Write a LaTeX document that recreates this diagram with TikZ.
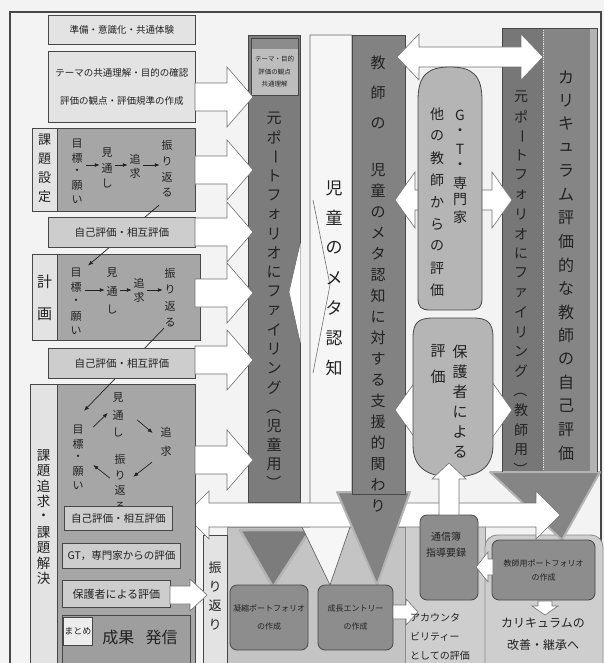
\documentclass[tikz,border=0pt]{standalone}
\usepackage{fontspec}
\usepackage{graphicx}
\setmainfont{Noto Sans CJK JP}
\usetikzlibrary{arrows.meta}
\makeatletter
\newcommand\tate[2]{\vbox{\offinterlineskip\@tfor\tate@c:=#2\do{\hbox to 1.1em{\hss\vbox to #1{\vss\hbox{\tate@c}\vss}\hss}}}}
\makeatother
\newcommand\tbar{\rotatebox[origin=c]{-90}{ー}}
\newcommand\tlp{\rotatebox[origin=c]{-90}{（}}
\newcommand\trp{\rotatebox[origin=c]{-90}{）}}
\newcommand\fs[2]{\fontsize{#1pt}{#2pt}\selectfont}
% block arrows
\newcommand\bkR[7]{\path[#1] (#2,{#4-(#5)}) -- ({#3-(#7)},{#4-(#5)}) -- ({#3-(#7)},{#4-(#6)}) -- (#3,#4) -- ({#3-(#7)},{#4+(#6)}) -- ({#3-(#7)},{#4+(#5)}) -- (#2,{#4+(#5)}) -- cycle;}
\newcommand\bkL[7]{\path[#1] (#2,{#4-(#5)}) -- ({#3+(#7)},{#4-(#5)}) -- ({#3+(#7)},{#4-(#6)}) -- (#3,#4) -- ({#3+(#7)},{#4+(#6)}) -- ({#3+(#7)},{#4+(#5)}) -- (#2,{#4+(#5)}) -- cycle;}
\newcommand\bkU[7]{\path[#1] ({#2-(#5)},#3) -- ({#2-(#5)},{#4+(#7)}) -- ({#2-(#6)},{#4+(#7)}) -- (#2,#4) -- ({#2+(#6)},{#4+(#7)}) -- ({#2+(#5)},{#4+(#7)}) -- ({#2+(#5)},#3) -- cycle;}
\newcommand\bkD[7]{\path[#1] ({#2-(#5)},#3) -- ({#2-(#5)},{#4-(#7)}) -- ({#2-(#6)},{#4-(#7)}) -- (#2,#4) -- ({#2+(#6)},{#4-(#7)}) -- ({#2+(#5)},{#4-(#7)}) -- ({#2+(#5)},#3) -- cycle;}
\newcommand\bkLR[7]{\path[#1] (#2,#4) -- ({#2+(#7)},{#4-(#6)}) -- ({#2+(#7)},{#4-(#5)}) -- ({#3-(#7)},{#4-(#5)}) -- ({#3-(#7)},{#4-(#6)}) -- (#3,#4) -- ({#3-(#7)},{#4+(#6)}) -- ({#3-(#7)},{#4+(#5)}) -- ({#2+(#7)},{#4+(#5)}) -- ({#2+(#7)},{#4+(#6)}) -- cycle;}
\definecolor{bg}{HTML}{F3F3F3}
\definecolor{edge}{HTML}{474747}
\definecolor{ink}{HTML}{222222}
\definecolor{colA}{HTML}{7C7C7C}
\definecolor{colB}{HTML}{F6F6F6}
\definecolor{colC}{HTML}{828282}
\definecolor{colE}{HTML}{777777}
\definecolor{colF}{HTML}{858585}
\definecolor{bandgray}{HTML}{B3B3B3}
\definecolor{grpgray}{HTML}{A6A6A6}
\definecolor{lightbox}{HTML}{E3E3E3}
\definecolor{midbox}{HTML}{CDCDCD}
\definecolor{bottlegray}{HTML}{B5B5B5}
\definecolor{botbox}{HTML}{8D8D8D}
\definecolor{botbg}{HTML}{C4C4C4}
\definecolor{accbg}{HTML}{CECECE}
\definecolor{smallbox}{HTML}{BDBDBD}
\definecolor{hdr}{HTML}{8C8C8C}
\definecolor{mtmgray}{HTML}{9E9E9E}
\tikzset{
  outerframe/.style={draw=edge, line width=2pt},
  lbox/.style={draw=edge, line width=0.8pt, fill=lightbox, inner sep=0pt, align=center, text=ink},
  sbox/.style={draw=edge, line width=0.8pt, fill=midbox, inner sep=0pt, align=center, text=ink},
  grp/.style={draw=edge, line width=0.8pt, fill=grpgray, inner sep=0pt},
  labelstrip/.style={draw=edge, line width=0.8pt, fill=lightbox, inner sep=0pt},
  colbox/.style={draw=edge, line width=0.6pt, inner sep=0pt},
  warrow/.style={fill=white, draw=black!55, line width=0.6pt, line join=miter},
  bottle/.style={fill=bottlegray, draw=edge, line width=0.8pt},
  rbox/.style={draw=edge, line width=0.8pt, fill=botbox, rounded corners=7pt, inner sep=0pt, align=center, text=ink},
  vt/.style={inner sep=0pt, text=ink},
  txt/.style={inner sep=0pt, text=ink, align=center},
  tline/.style={draw=ink, line width=0.7pt, -{Latex[length=5pt,width=4pt]}},
}
\begin{document}
\begin{tikzpicture}[x=1pt,y=-1pt]
\useasboundingbox (0,0) rectangle (604,663);
\fill[bg] (-2,-2) rectangle (606,665);
\draw[outerframe] (10,680) -- (10,12) -- (601,12) -- (601,680);

% ---------- bottom regions ----------
\path[draw=black!45, fill=botbg, line width=0.6pt] (227,527) rectangle (405,680);
\path[draw=black!45, fill=accbg, line width=0.6pt] (405,505) rectangle (485,680);
\path[draw=black!45, fill=accbg, line width=0.8pt, rounded corners=12pt] (485,535) rectangle (603,690);
\node[labelstrip, anchor=north west, minimum width=24pt, minimum height=140pt] (furi) at (203,535) {};

% ---------- column A ----------
\node[colbox, fill=colA, anchor=north west, minimum width=52pt, minimum height=467pt] (colA) at (248,35) {};
\node[draw=edge, line width=0.6pt, fill=smallbox, anchor=north west, minimum width=47pt, minimum height=57pt, inner sep=0pt] (abox) at (251,38) {};
\fill[hdr] (252,39) rectangle (297.5,49);
\node[txt, font={\fs{6.5}{12.5}}] (aboxt) at (274.5,72) {テーマ・目的\\評価の観点\\共通理解};
\path[fill=colA, draw=bandgray, line width=2.5pt, line join=round] (240,530) -- (310,530) -- (273,587) -- cycle;

% ---------- column B ----------
\path[draw=black!60, line width=0.7pt, fill=colB] (310,35) -- (352,35) -- (352,527) -- (350,527) -- (330,585) -- (302,527) -- (310,527) -- cycle;
\fill[white] (300.6,243) -- (289,292) -- (300.6,343) -- cycle;
\draw[black!55, line width=0.6pt] (300,243) -- (289,292) -- (300,343);
\draw[black!55, line width=0.6pt] (313,200) -- (330,285) -- (313,373);

% ---------- columns E / F ----------
\fill[colE] (502,28) rectangle (543,480);
\fill[colF] (543,28) rectangle (597,480);
\fill[bandgray] (590,28) rectangle (597,480);
\draw[white!75!gray, densely dotted, line width=0.8pt] (543,30) -- (543,470);
\path[fill=colF, draw=bandgray, line width=2pt, line join=round] (490,472) -- (600,472) -- (562,540) -- cycle;
\draw[edge, line width=0.6pt] (502,472) -- (502,28) -- (597,28) -- (597,472);

% ---------- long double arrow ----------
\bkLR{warrow}{185}{560}{515}{12}{24}{24}

% ---------- column C ----------
\path[fill=colC, draw=bandgray, line width=2pt, line join=round] (337,492) -- (410,492) -- (377,585) -- cycle;
\path[colbox, fill=colC] (352,35) rectangle (405,494);

% ---------- white double arrows right part ----------
\bkLR{warrow}{397}{543}{57}{10}{23}{22}
\bkLR{warrow}{395}{512}{200}{10}{28}{20}
\bkLR{warrow}{395}{512}{410}{10}{28}{20}

% ---------- bottles ----------
\path[bottle] (418,298) -- (418,100) .. controls (418,75) and (428,67) .. (450,67) .. controls (472,67) and (482,75) .. (482,100) -- (482,298) .. controls (482,307) and (479,310) .. (470,310) -- (430,310) .. controls (421,310) and (418,307) .. (418,298) -- cycle;
\path[bottle] (413,338) .. controls (413,323) and (418,318) .. (433,318) -- (473,318) .. controls (488,318) and (493,323) .. (493,338) -- (493,445) .. controls (493,468) and (478,477) .. (453,477) .. controls (428,477) and (413,468) .. (413,445) -- cycle;

% ---------- left column ----------
\node[lbox, anchor=north west, minimum width=147pt, minimum height=29pt, font={\fs{9.5}{11}}] (prep) at (48,15) {準備・意識化・共通体験};
\node[lbox, anchor=north west, minimum width=147pt, minimum height=71pt, font={\fs{9.5}{11}}] (theme) at (48,51) {テーマの共通理解・目的の確認\\[17pt]評価の観点・評価規準の作成};

% group 1
\node[grp, anchor=north west, minimum width=163pt, minimum height=83pt] (g1) at (32,128) {};
\node[labelstrip, anchor=north west, minimum width=25pt, minimum height=83pt] (g1s) at (32,128) {};
\node[vt, font={\fs{13}{13}}] (g1l) at (44.5,168) {\tate{19pt}{課題設定}};
\node[vt, font={\fs{11}{11}}] (g1a) at (77,172) {\tate{14pt}{目標・願い}};
\node[vt, font={\fs{11}{11}}] (g1b) at (107,168) {\tate{15pt}{見通し}};
\node[vt, font={\fs{11}{11}}] (g1c) at (135,166) {\tate{14pt}{追求}};
\node[vt, font={\fs{11}{11}}] (g1d) at (167,169) {\tate{16pt}{振り返る}};
\coordinate (g1row) at (100,165);
\draw[tline, shorten <=3pt, shorten >=1pt] (g1a.east |- g1row) -- (g1b.west |- g1row);
\draw[tline, shorten <=2pt, shorten >=1pt] (g1b.east |- g1row) -- (g1c.west |- g1row);
\draw[tline, shorten <=2pt, shorten >=1pt] (g1c.east |- g1row) -- (g1d.west |- g1row);

% group 2
\node[grp, anchor=north west, minimum width=168pt, minimum height=86pt] (g2) at (32,254) {};
\node[labelstrip, anchor=north west, minimum width=25pt, minimum height=86pt] (g2s) at (32,254) {};
\node[vt, font={\fs{15}{15}}] (g2l) at (44.5,298) {\tate{33pt}{計画}};
\node[vt, font={\fs{11}{11}}] (g2a) at (76,302) {\tate{14.5pt}{目標・願い}};
\node[vt, font={\fs{11}{11}}] (g2b) at (112,291) {\tate{18pt}{見通し}};
\node[vt, font={\fs{11}{11}}] (g2c) at (139,290) {\tate{14pt}{追求}};
\node[vt, font={\fs{11}{11}}] (g2d) at (170,298) {\tate{16.5pt}{振り返る}};
\coordinate (g2row) at (100,290);
\draw[tline, shorten <=3pt, shorten >=1pt] (g2a.east |- g2row) -- (g2b.west |- g2row);
\draw[tline, shorten <=2pt, shorten >=1pt] (g2b.east |- g2row) -- (g2c.west |- g2row);
\draw[tline, shorten <=2pt, shorten >=1pt] (g2c.east |- g2row) -- (g2d.west |- g2row);

% group 3
\node[grp, anchor=north west, minimum width=165pt, minimum height=300pt] (g3) at (30,384) {};
\node[labelstrip, anchor=north west, minimum width=27pt, minimum height=300pt] (g3s) at (30,384) {};
\node[vt, font={\fs{13.5}{14}}] (g3l) at (43.5,517) {\tate{15.4pt}{課題追求・課題解決}};
\node[vt, font={\fs{11}{11}}] (g3v) at (118,415) {\tate{17pt}{見通し}};
\node[vt, font={\fs{11}{11}}] (g3t) at (166,442) {\tate{19pt}{追求}};
\node[vt, font={\fs{11}{11}}] (g3f) at (120,483) {\tate{15.5pt}{振り返る}};
\node[vt, font={\fs{11}{11}}] (g3m) at (78,458) {\tate{14pt}{目標・願い}};
\draw[tline] ([shift={(13,5)}]g3v.east) -- ([shift={(-7,-9)}]g3t.west);
\draw[tline] ([shift={(-14,1)}]g3t.south) -- ([shift={(7,25)}]g3f.north east);
\draw[tline] ([shift={(-4,-5)}]g3f.west) -- ([shift={(9,7)}]g3m.east);
\draw[tline] ([shift={(9,-31)}]g3m.east) -- ([shift={(-4,-2)}]g3v.west);

% connectors between groups (behind evaluation boxes)
\draw[tline] ([shift={(-8,4)}]g1d.south) -- ([shift={(12,0)}]g2a.north);
\draw[tline] ([shift={(-6,-3)}]g2d.south) -- ([shift={(6,-12)}]g3m.north);

% evaluation boxes
\node[sbox, anchor=north west, minimum width=147pt, minimum height=30pt, font={\fs{10.5}{12}}] (se1) at (48,217) {自己評価・相互評価};
\node[sbox, anchor=north west, minimum width=147pt, minimum height=30pt, font={\fs{10.5}{12}}] (se2) at (48,348) {自己評価・相互評価};
\node[sbox, anchor=north west, minimum width=108pt, minimum height=24pt, font={\fs{10.5}{12}}] (se3) at (64,506) {自己評価・相互評価};
\node[sbox, anchor=north west, minimum width=118pt, minimum height=25pt, font={\fs{10.5}{12}}] (gt) at (62,543) {GT，専門家からの評価};
\node[sbox, anchor=north west, minimum width=108pt, minimum height=27pt, font={\fs{11}{12}}] (hogo) at (62,580) {保護者による評価};
\node[grp, fill=mtmgray, anchor=north west, minimum width=128pt, minimum height=60pt] (matome) at (62,615) {};
\node[draw=edge, line width=0.6pt, fill=white!93!black, anchor=north west, minimum width=29pt, minimum height=28pt, inner sep=0pt, font={\fs{9}{10}}, text=ink] (mtm) at (63,617) {まとめ};
\node[txt, font={\fs{16}{16}}] (seika) at (140,637) {成果\hspace{0.7em}発信};

% arrows from left column into column A
\foreach \yy in {97,170,232,293,360,460} {\bkR{warrow}{195}{253}{\yy}{14}{30}{26}}
\bkR{warrow}{170}{207}{595}{9}{16}{17}

% ---------- bottom boxes ----------
\node[rbox, minimum width=78pt, minimum height=65pt, font={\fs{8}{9}}] (cond) at (269,617.5) {凝縮ポートフォリオ\\[9pt]の作成};
\node[rbox, minimum width=75pt, minimum height=65pt, font={\fs{8}{9}}] (grow) at (355.5,617.5) {成長エントリー\\[9pt]の作成};
\node[rbox, minimum width=58pt, minimum height=85pt] (tsushin) at (449,557.5) {};
\node[txt, font={\fs{10}{12}}] (tsushinT) at (446,545) {通信簿\\[4pt]指導要録};
\node[rbox, minimum width=103pt, minimum height=60pt, font={\fs{8}{9}}] (tport) at (543.5,570) {教師用ポートフォリオ\\[5pt]の作成};
\bkU{warrow}{449}{515}{463}{10}{17}{16}
\bkL{warrow}{493}{476}{567}{8}{15}{12}
\bkD{warrow}{545}{601}{615}{7}{13}{9}
\bkR{warrow}{393}{418}{612}{7}{13}{12}
\node[txt, align=left, anchor=west, font={\fs{10}{19}}] (acc) at (410,637) {アカウンタ\\ビリティー\\としての評価};
\node[txt, font={\fs{12}{22}}] (curr) at (543,634) {カリキュラムの\\改善・継承へ};
\node[vt, font={\fs{13}{13}}] (furiT) at (215,596) {\tate{19pt}{振り返り}};

% ---------- column texts ----------
\node[vt, font={\fs{15}{15}}] (ta) at (274,301) {\tate{19.2pt}{元ポ{\tbar}トフォリオにファイリング{\tlp}児童用{\trp}}};
\node[vt, font={\fs{17}{17}}] (tb) at (334,278) {\tate{30pt}{児童のメタ認知}};
\node[vt, font={\fs{15}{15}}] (tc1) at (378,93) {\tate{30pt}{教師の}};
\node[vt, font={\fs{15}{15}}] (tc2) at (378,338) {\tate{21pt}{児童のメタ認知に対する支援的関わり}};
\node[vt, font={\fs{14}{14}}] (te) at (521,283) {\tate{19.6pt}{元ポ{\tbar}トフォリオにファイリング{\tlp}教師用{\trp}}};
\node[vt, font={\fs{16}{16}}] (tf) at (566,265) {\tate{23.5pt}{カリキュラム評価的な教師の自己評価}};
\node[vt, font={\fs{14}{14}}] (tg1) at (460,166) {\tate{17pt}{G・T・専門家}};
\node[vt, font={\fs{14}{14}}] (tg2) at (437,202) {\tate{22pt}{他の教師からの評価}};
\node[vt, font={\fs{15}{15}}] (th1) at (460,402) {\tate{20pt}{保護者による}};
\node[vt, font={\fs{15}{15}}] (th2) at (438,364) {\tate{25pt}{評価}};
\end{tikzpicture}
\end{document}
